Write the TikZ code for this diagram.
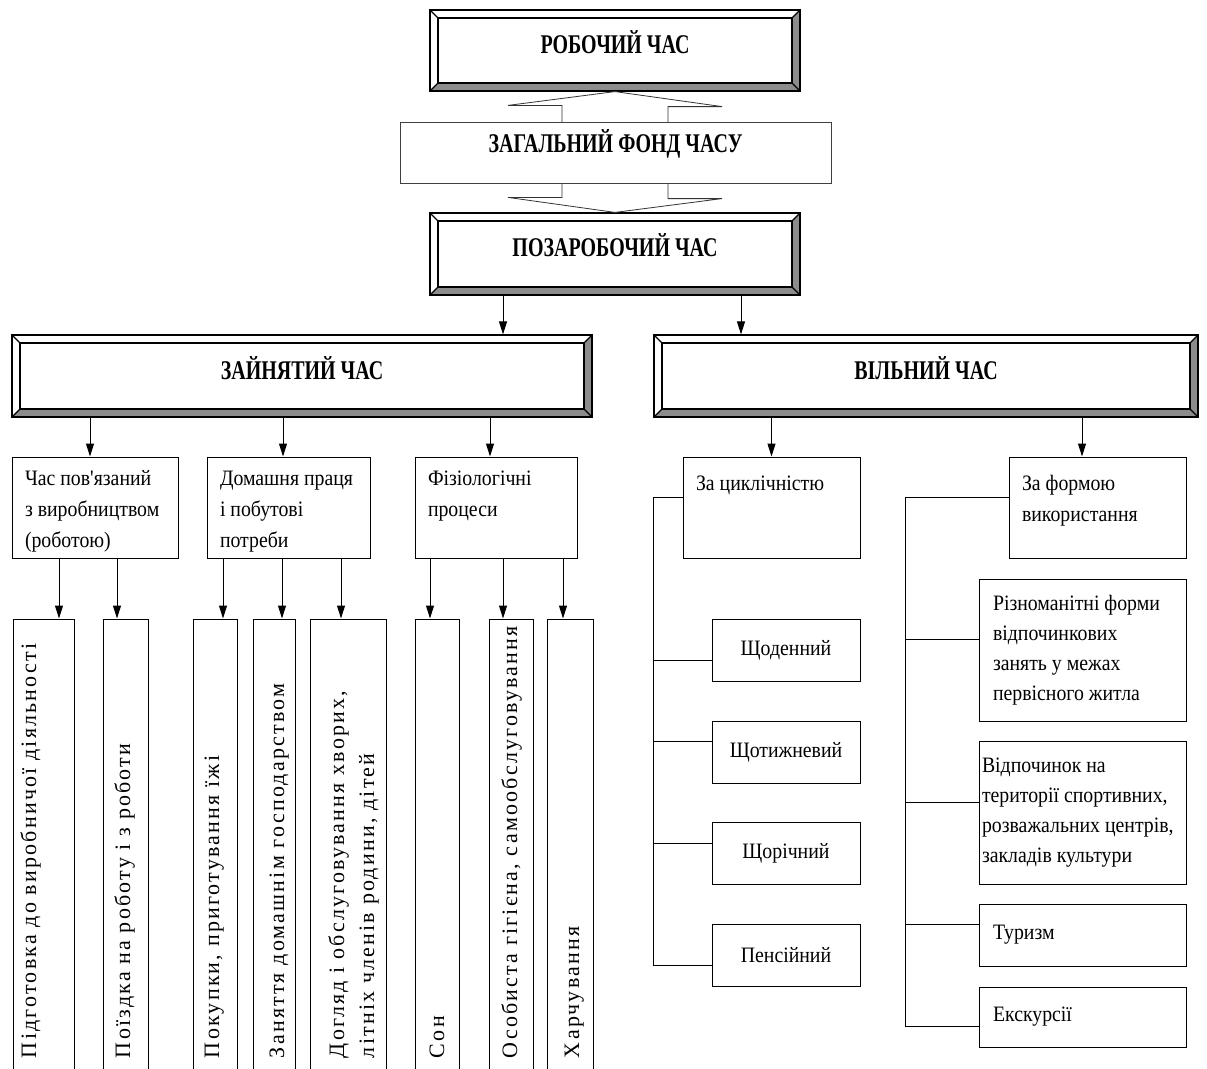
\documentclass[tikz,border=0pt]{standalone}
\usepackage{fontspec}
\setmainfont{Liberation Serif}
\newfontfamily\titlefont[FakeStretch=0.74]{Liberation Serif}
\newfontfamily\bodyfont[FakeStretch=0.9]{Liberation Serif}
\newfontfamily\stripfont[LetterSpace=10]{Liberation Serif}
\usetikzlibrary{positioning, arrows.meta}

% text set from the top of a box
\newcommand{\toplines}[4][8pt]{\parbox[c][#3][t]{#2}{\vspace*{#1}\raggedright\rule{0pt}{20pt}#4}}
% text of the upright strips
\newcommand{\striptext}[3]{\parbox[c][#1][t]{456pt}{\vspace*{#2}\raggedright\leftskip=17pt\rule{0pt}{20pt}#3}}

\tikzset{
>={Triangle[length=13pt, width=8pt]}, % arrow heads
bevelbox/.style={draw, line width=1.2pt, fill=white, text depth=17pt,
  font=\titlefont\bfseries\fontsize{27}{30}\selectfont,
  path picture={
    \path (path picture bounding box.south west) coordinate (sw)
          (path picture bounding box.north east) coordinate (ne)
          (sw -| ne) coordinate (se)
          (ne -| sw) coordinate (nw);
    \fill[black!45] (sw) -- ([shift={(8pt,8pt)}]sw) -- ([shift={(-8pt,8pt)}]se)
      -- ([shift={(-8pt,-8pt)}]ne) -- (ne) -- (se) -- cycle;
    \draw ([shift={(8pt,8pt)}]sw) rectangle ([shift={(-8pt,-8pt)}]ne);
    \draw (sw) -- ++(8pt,8pt) (se) -- ++(-8pt,8pt) (ne) -- ++(-8pt,-8pt) (nw) -- ++(8pt,-8pt);
  }},
genbox/.style={draw=black!75, line width=0.8pt, fill=white, minimum width=431pt,
  minimum height=61pt, text depth=22pt, font=\titlefont\bfseries\fontsize{27}{30}\selectfont},
catbox/.style={draw, inner xsep=13pt, inner ysep=0pt, font=\bodyfont\fontsize{22}{31}\selectfont},
periodbox/.style={draw, minimum width=148pt, minimum height=62pt, font=\bodyfont\fontsize{22}{30}\selectfont},
formbox/.style={draw, minimum width=207pt, text width=179pt, inner xsep=14pt, align=flush left,
  font=\bodyfont\fontsize{22}{30}\selectfont},
stripbox/.style={draw, rotate=90, minimum width=456pt, minimum height=#1, inner sep=0pt,
  font=\stripfont\fontsize{22}{30}\selectfont},
}

\begin{document}
\begin{tikzpicture}[x=1pt, y=-1pt, line width=1pt]
\useasboundingbox (0,0) rectangle (1207,1068);

\node[bevelbox, minimum width=370pt, minimum height=81pt] (work) at (615,50.5) {РОБОЧИЙ ЧАС};
\node[bevelbox, minimum width=370pt, minimum height=82pt] (nonwork) at (615,254) {ПОЗАРОБОЧИЙ ЧАС};
\draw[line width=0.8pt, draw=black!80, fill=white] (work.south) -- ++(107,15) -- ++(-54,0)
  -- ++(0,92) -- ++(54,0) -- (nonwork.north) -- ++(-107,-15) -- ++(54,0) -- ++(0,-92)
  -- ++(-54,0) -- cycle;
\node[genbox] (total) at (615.5,152.5) {ЗАГАЛЬНИЙ ФОНД ЧАСУ};

\node[bevelbox, minimum width=580pt, minimum height=82pt] (busy) at (302,376) {ЗАЙНЯТИЙ ЧАС};
\node[bevelbox, minimum width=544pt, minimum height=82pt] (free) at (926,376) {ВІЛЬНИЙ ЧАС};

\node[catbox] (prod) at (95,507.5) {\toplines{140pt}{101pt}{Час пов'язаний\\з виробництвом\\(роботою)}};
\node[catbox] (home) at (288.5,507.5) {\toplines{137pt}{101pt}{Домашня праця\\і побутові\\потреби}};
\node[catbox] (phys) at (496,507.5) {\toplines{136pt}{101pt}{Фізіологічні\\процеси}};
\node[catbox] (cycl) at (771.5,507.5) {\toplines[13pt]{151pt}{101pt}{За циклічністю}};
\node[catbox] (usage) at (1097.5,507.5) {\toplines[13pt]{151pt}{101pt}{За формою\\використання}};

% upright strips
\node[stripbox=61pt] (prep) at (43.5,847) {\striptext{61pt}{3pt}{Підготовка до виробничої діяльності}};
\node[stripbox=45pt] (trip) at (125.5,847) {\striptext{45pt}{7pt}{Поїздка на роботу і з роботи}};
\node[stripbox=44pt] (shop) at (215,847) {\striptext{44pt}{6pt}{Покупки, приготування їжі}};
\node[stripbox=42pt] (house) at (274,847) {\striptext{42pt}{11pt}{Заняття домашнім господарством}};
\node[stripbox=76pt] (care) at (348,847) {\striptext{76pt}{14pt}{Догляд і обслуговування хворих,\\літніх членів родини, дітей}};
\node[stripbox=44pt] (sleep) at (437,847) {\striptext{44pt}{9pt}{Сон}};
\node[stripbox=44pt] (hyg) at (511,847) {\striptext{44pt}{8pt}{Особиста гігієна, самообслуговування}};
\node[stripbox=46pt] (food) at (570,847) {\striptext{46pt}{12pt}{Харчування}};

% free time
\node[periodbox] (daily) at (786,650) {Щоденний};
\node[periodbox] (weekly) at (786,752) {Щотижневий};
\node[periodbox] (yearly) at (786,853) {Щорічний};
\node[periodbox] (pens) at (786,955.5) {Пенсійний};

\node[formbox, minimum height=142pt] (div) at (1082.5,650) {Різноманітні форми\\відпочинкових\\занять у межах\\первісного житла};
\node[formbox, minimum height=143pt, inner xsep=3pt, text width=201pt] (rest) at (1082.5,812.5) {Відпочинок на\\території спортивних,\\розважальних центрів,\\закладів культури};
\node[formbox, minimum height=62pt] (tour) at (1082.5,935) {Туризм};
\node[formbox, minimum height=60pt] (exc) at (1082.5,1017) {Екскурсії};

% arrows
\draw[->] ([xshift=-112pt]nonwork.south) -- ([xshift=-112pt]nonwork.south |- busy.north);
\draw[->] ([xshift=126pt]nonwork.south) -- ([xshift=126pt]nonwork.south |- free.north);
\foreach \n/\s in {prod/-5, home/-5.5, phys/-6}
  \draw[->] ([xshift=\s pt]\n.north |- busy.south) -- ([xshift=\s pt]\n.north);
\foreach \n/\s in {cycl/0, usage/-15.5}
  \draw[->] ([xshift=\s pt]\n.north |- free.south) -- ([xshift=\s pt]\n.north);
\foreach \a/\b/\s in {prod/prep/15.5, prod/trip/-8.5, home/shop/8, home/house/8, home/care/-7,
    phys/sleep/-7, phys/hyg/-8, phys/food/-7}
  \draw[->] ([xshift=\s pt]\b.east |- \a.south) -- ([xshift=\s pt]\b.east);

% brackets
\draw ([yshift=10pt]cycl.west) -| ([xshift=-58pt,yshift=-10pt]pens.west) -- ([yshift=-10pt]pens.west);
\foreach \n/\s in {daily/-10, weekly/11, yearly/10}
  \draw ([yshift=\s pt]\n.west) -- ++(-58,0);
\draw ([yshift=10pt]usage.west) -| ([xshift=-73pt,yshift=-9pt]exc.west) -- ([yshift=-9pt]exc.west);
\foreach \n/\s in {div/11, rest/10, tour/11}
  \draw ([yshift=\s pt]\n.west) -- ++(-73,0);
\end{tikzpicture}
\end{document}
